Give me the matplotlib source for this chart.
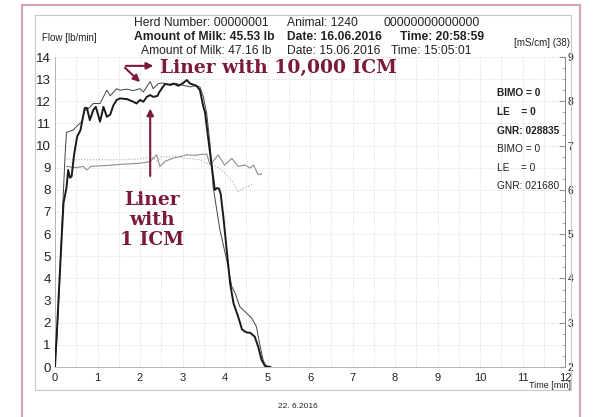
import matplotlib.pyplot as plt
import matplotlib.patches as mpatches
import numpy as np

# flow curves [lb/min] vs time [min]
t_1icm = [0, 0.05, 0.1, 0.15, 0.2, 0.27, 0.31, 0.35, 0.39, 0.45, 0.52, 0.6, 0.7, 0.75, 0.82, 0.9,
          0.96, 1.06, 1.14, 1.22, 1.3, 1.37, 1.45, 1.53, 1.69, 1.84, 1.92, 2.0, 2.08, 2.16, 2.24,
          2.31, 2.41, 2.45, 2.52, 2.59, 2.7, 2.8, 2.9, 3.0, 3.1, 3.18, 3.33, 3.41, 3.49, 3.53,
          3.6, 3.69, 3.76, 3.81, 3.86, 3.9, 3.96, 4.04, 4.12, 4.2, 4.31, 4.4, 4.47, 4.53, 4.59,
          4.65, 4.7, 4.78, 4.86, 4.94, 5.06]
flow_1icm = [0, 1.8, 3.7, 5.6, 7.4, 8.1, 8.9, 8.55, 8.6, 9.6, 10.4, 10.7, 11.7, 11.7, 11.15, 11.6,
             11.75, 11.08, 11.75, 11.3, 11.4, 11.8, 12.06, 12.13, 12.1, 11.98, 11.9, 12.06, 11.98,
             12.2, 12.28, 12.2, 12.24, 12.4, 12.6, 12.78, 12.75, 12.8, 12.7, 12.8, 12.96, 12.8,
             12.7, 12.5, 11.76, 11.5, 10.4, 9.05, 8.0, 8.08, 8.05, 7.8, 6.8, 5.28, 3.78, 2.88,
             2.27, 1.7, 1.6, 1.55, 1.55, 1.45, 1.37, 0.92, 0.32, 0.05, 0.0]

t_10k = [0, 0.05, 0.1, 0.15, 0.2, 0.235, 0.27, 0.35, 0.43, 0.5, 0.63, 0.7, 0.75, 0.9, 1.06, 1.14,
         1.22, 1.3, 1.37, 1.45, 1.53, 1.69, 1.84, 2.0, 2.08, 2.24, 2.31, 2.43, 2.55, 2.71, 2.86,
         3.02, 3.18, 3.29, 3.41, 3.49, 3.57, 3.65, 3.72, 3.88, 4.04, 4.16, 4.24, 4.35, 4.51,
         4.63, 4.74, 4.82, 4.9, 4.97]
flow_10k = [0, 1.5, 3.5, 5.8, 8.0, 9.5, 10.6, 10.65, 10.7, 10.85, 11.08, 11.6, 11.6, 11.9, 11.9,
            12.2, 12.5, 12.25, 12.4, 12.57, 12.5, 12.55, 12.48, 12.57, 12.42, 12.89, 12.57, 12.8,
            12.83, 12.72, 12.8, 12.72, 12.65, 12.7, 12.65, 12.2, 11.46, 10.0, 8.14, 6.2, 4.83,
            3.63, 3.33, 2.72, 2.43, 2.2, 1.82, 1.0, 0.3, 0.0]

# conductivity [mS/cm] (right axis)
t_cond_a = [0.27, 0.5, 0.66, 0.75, 0.85, 1.2, 1.6, 2.0, 2.24, 2.39, 2.47, 2.6, 2.8, 3.1, 3.3,
            3.45, 3.57, 3.65, 3.84, 3.99, 4.16, 4.31, 4.47, 4.59, 4.67, 4.78, 4.86]
cond_a = [6.53, 6.5, 6.53, 6.45, 6.53, 6.55, 6.58, 6.6, 6.64, 6.79, 6.53, 6.65, 6.72, 6.79, 6.78,
          6.8, 6.81, 6.56, 6.79, 6.56, 6.71, 6.53, 6.56, 6.49, 6.56, 6.34, 6.36]
t_cond_b = [0.27, 0.5, 1.0, 1.5, 2.0, 2.3, 2.4, 2.5, 2.9, 3.0, 3.2, 3.41, 3.57, 3.8, 4.04, 4.2,
            4.31, 4.43, 4.55, 4.67]
cond_b = [6.7, 6.68, 6.68, 6.68, 6.7, 6.73, 6.65, 6.75, 6.75, 6.72, 6.7, 6.68, 6.6, 6.53, 6.34,
          6.15, 5.96, 6.04, 6.08, 6.15]

W, H = 596, 417
maroon = '#7a1a3c'
sans = 'Liberation Sans'
serif = 'DejaVu Serif'

def fx(px):
    return px / W

def fy(py):
    return 1 - py / H

fig = plt.figure(figsize=(5.96, 4.17), dpi=100)
ax = fig.add_axes([fx(55), fy(367), fx(565) - fx(55), fy(57) - fy(367)])

# page frames
fig.add_artist(mpatches.Rectangle((fx(22), fy(430)), fx(580) - fx(22), fy(5) - fy(430),
                                  fill=False, edgecolor='#d6a3b3', lw=1.5, transform=fig.transFigure))
fig.add_artist(mpatches.Rectangle((fx(35), fy(390)), fx(571) - fx(35), fy(15) - fy(390),
                                  fill=False, edgecolor='#c8c8c8', lw=0.8, transform=fig.transFigure))

ax.set_xlim(0, 12)
ax.set_ylim(0, 14)
ax.set_xticks(np.arange(0, 13, 1))
ax.set_yticks(np.arange(0, 15, 1))
ax.set_xticks(np.arange(0, 12.5, 0.5), minor=True)
ax.grid(True, which='both', axis='x', color='#d0d0d0', ls=':', lw=0.6)
ax.grid(True, which='major', axis='y', color='#d0d0d0', ls=':', lw=0.6)
ax.tick_params(axis='both', which='both', length=0)
ax.tick_params(axis='y', labelsize=9.5, pad=3, labelcolor='#222222')
ax.tick_params(axis='x', labelsize=8, pad=4, labelcolor='#222222')
for lab in ax.get_xticklabels() + ax.get_yticklabels():
    lab.set_fontfamily(sans)
ax.spines['top'].set_visible(False)
ax.spines['right'].set_visible(False)
ax.spines['left'].set_color('#aaaaaa')
ax.spines['bottom'].set_color('#aaaaaa')
ax.spines['left'].set_linewidth(0.6)
ax.spines['bottom'].set_linewidth(0.6)

ax2 = ax.twinx()
ax2.set_ylim(2, 9)
ax2.set_yticks(np.arange(2, 10, 1))
ax2.set_yticks(np.arange(2, 9.01, 0.25), minor=True)
ax2.tick_params(axis='y', which='major', direction='in', length=4, labelsize=7.5, pad=2,
                color='#777777', labelcolor='#222222')
ax2.tick_params(axis='y', which='minor', direction='in', length=2, color='#999999')
for lab in ax2.get_yticklabels():
    lab.set_fontfamily(sans)
for s in ['top', 'left', 'bottom']:
    ax2.spines[s].set_visible(False)
ax2.spines['right'].set_color('#888888')
ax2.spines['right'].set_linewidth(0.7)

ax2.plot(t_cond_a, cond_a, color='#8c8c8c', lw=0.8)
ax2.plot(t_cond_b, cond_b, color='#aaaaaa', lw=0.8, ls=':')

ax.plot(t_10k, flow_10k, color='#444444', lw=0.7, zorder=5)
ax.plot(t_1icm, flow_1icm, color='#1a1a1a', lw=1.4, zorder=6)
ax.set_zorder(ax2.get_zorder() + 1)
ax.patch.set_visible(False)

# annotations
ax.annotate('', xy=(2.38, 13.6), xytext=(1.6, 13.6),
            arrowprops=dict(arrowstyle='-|>', color=maroon, lw=1.5, mutation_scale=10))
ax.annotate('', xy=(2.05, 12.78), xytext=(1.6, 13.6),
            arrowprops=dict(arrowstyle='-|>', color=maroon, lw=1.5, mutation_scale=10))
ax.text(2.47, 13.5, 'Liner with 10,000 ICM', color=maroon, fontsize=13.5, fontweight='bold',
        family=serif, va='center', ha='left')
ax.annotate('', xy=(2.24, 11.8), xytext=(2.24, 8.5),
            arrowprops=dict(arrowstyle='-|>', color=maroon, lw=1.5, mutation_scale=10))
ax.text(2.28, 6.64, 'Liner\nwith\n1 ICM', color=maroon, fontsize=13.5, fontweight='bold',
        family=serif, va='center', ha='center', linespacing=1.15)

# header texts
hdr = dict(fontsize=8.7, family=sans, color='#222222', va='center', ha='left')
fig.text(fx(134), fy(23), 'Herd Number: 00000001', **hdr)
fig.text(fx(287), fy(23), 'Animal: 1240', **hdr)
fig.text(fx(384), fy(23), '00000000000000', **hdr)
fig.text(fx(134), fy(37), 'Amount of Milk: 45.53 lb', fontweight='bold', **hdr)
fig.text(fx(287), fy(37), 'Date: 16.06.2016', fontweight='bold', **hdr)
fig.text(fx(400), fy(37), 'Time: 20:58:59', fontweight='bold', **hdr)
fig.text(fx(141), fy(51), 'Amount of Milk: 47.16 lb', **hdr)
fig.text(fx(287), fy(51), 'Date: 15.06.2016', **hdr)
fig.text(fx(391), fy(51), 'Time: 15:05:01', **hdr)

fig.text(fx(42), fy(38), 'Flow [lb/min]', fontsize=7, family=sans, color='#222222', va='center')
fig.text(fx(570), fy(43), '[mS/cm] (38)', fontsize=7, family=sans, color='#222222',
         va='center', ha='right')
fig.text(fx(571), fy(386), 'Time [min]', fontsize=6.5, family=sans, color='#222222',
         va='center', ha='right')
fig.text(fx(298), fy(406), '22. 6.2016', fontsize=6, family=sans, color='#222222',
         va='center', ha='center')

side = [('BIMO = 0', 93, 'bold'), ('LE    = 0', 112, 'bold'), ('GNR: 028835', 131, 'bold'),
        ('BIMO = 0', 149, 'normal'), ('LE    = 0', 168, 'normal'), ('GNR: 021680', 186, 'normal')]
for txt, py, wt in side:
    fig.text(fx(497), fy(py), txt, fontsize=7.3, family=sans, fontweight=wt, color='#222222',
             va='center', ha='left')

fig.savefig('out.png', dpi=100)
